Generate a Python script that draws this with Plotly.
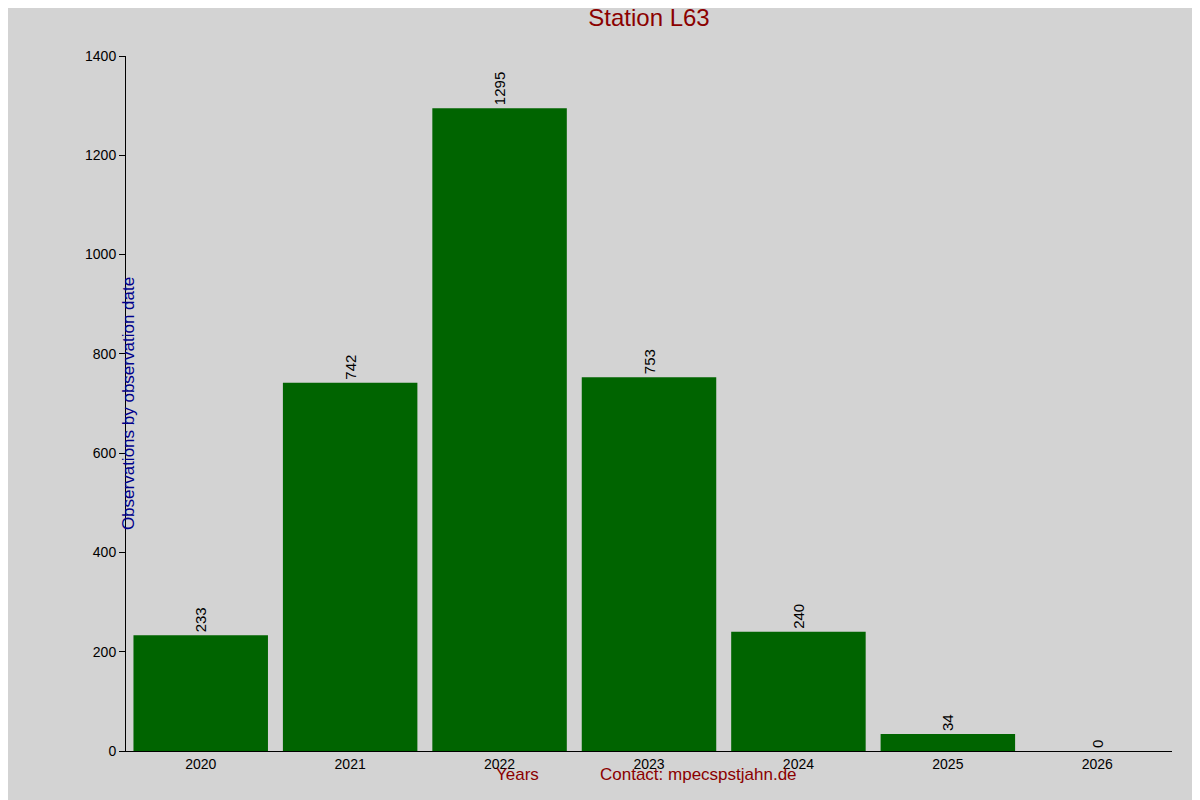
import plotly.graph_objects as go

years = ["2020", "2021", "2022", "2023", "2024", "2025", "2026"]
counts = [233, 742, 1295, 753, 240, 34, 0]
yticks = [0, 200, 400, 600, 800, 1000, 1200, 1400]

fig = go.Figure(go.Bar(
    x=years, y=counts, marker=dict(color="#006400", line=dict(width=0)),
    text=[str(c) for c in counts], textposition="outside", textangle=-90,
    textfont=dict(color="black", size=15), cliponaxis=False, width=0.9))

fig.update_layout(
    width=1200, height=800, paper_bgcolor="#d3d3d3", plot_bgcolor="#d3d3d3",
    font=dict(family="Liberation Sans, Arial, sans-serif", size=14, color="black"),
    margin=dict(l=118, r=36, t=48, b=57),
    title=dict(text="Station L63", x=(641 - 118) / 1046 * (1046 / 1200) + 118 / 1200,
               xanchor="center", y=1 - 10 / 800, yanchor="middle",
               font=dict(size=24, color="#8b0000")),
    showlegend=False, bargap=0.1,
    xaxis=dict(type="category", range=[-0.5, 6.5], showline=True, linecolor="black",
               ticks="", showgrid=False, tickfont=dict(size=14)),
    yaxis=dict(range=[0, 1400], tickvals=yticks, showline=True, linecolor="black",
               ticks="outside", ticklen=6, tickcolor="black", showgrid=False, zeroline=False,
               tickfont=dict(size=14)),
)
fig.add_annotation(text="Observations by observation date", textangle=-90,
                   x=3 / 1200, xref="paper", xanchor="center", y=0.5, yref="y domain",
                   showarrow=False, font=dict(size=17, color="#00008b"))
fig.add_annotation(text="Years", x=(509 - 118) / 1046, xref="x domain",
                   y=0, yref="y domain", yshift=-35, showarrow=False,
                   font=dict(size=17, color="#8b0000"))
fig.add_annotation(text="Contact: mpecspstjahn.de", x=(690 - 118) / 1046, xref="x domain",
                   y=0, yref="y domain", yshift=-35, showarrow=False,
                   font=dict(size=17, color="#8b0000"))
fig.write_html("out.html")
